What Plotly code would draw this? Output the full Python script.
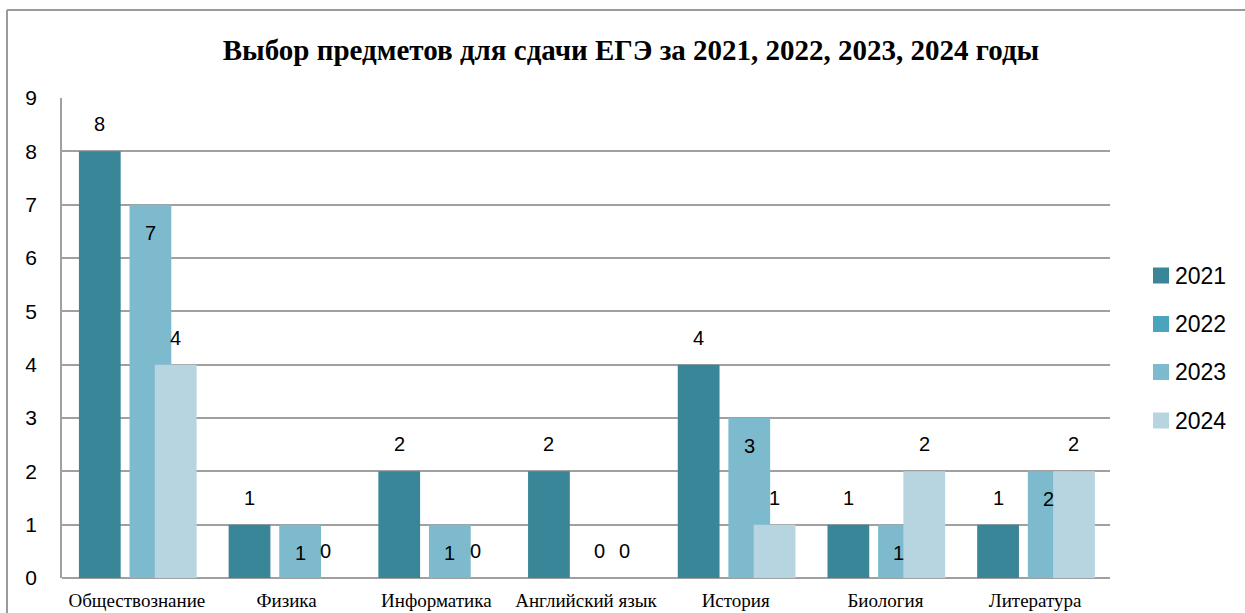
import plotly.graph_objects as go

categories = ["Обществознание", "Физика", "Информатика", "Английский язык",
              "История", "Биология", "Литература"]
years = ["2021", "2022", "2023", "2024"]
v2021 = [8, 1, 2, 2, 4, 1, 1]
v2022 = [None, None, None, None, None, None, None]
v2023 = [7, 1, 1, 0, 3, 1, 2]
v2024 = [4, 0, 0, 0, 1, 2, 2]
y_ticks = [0, 1, 2, 3, 4, 5, 6, 7, 8, 9]

series = [v2021, v2022, v2023, v2024]
colors = ["#3A8699", "#4AA4BC", "#7EBACE", "#B7D5E0"]

W, H = 1245, 613
L, R, T, B = 62, 135, 98, 35
pw, ph = W - L - R, H - T - B

bar_w = 0.279
step = 0.169
first_off = -0.387

fig = go.Figure()
annotations = []
idx = list(range(len(categories)))
for i, (yr, vals, col) in enumerate(zip(years, series, colors)):
    off = first_off + i * step
    fig.add_trace(go.Bar(
        x=idx, y=vals, name=yr, offset=off, width=bar_w,
        marker=dict(color=col, line=dict(width=0)), showlegend=False,
    ))
    for k, v in enumerate(vals):
        if v is None:
            continue
        if yr == "2023" and v > 0:
            shift = -28
        else:
            shift = 27
        annotations.append(dict(
            x=k + off + bar_w / 2, y=v, xref="x", yref="y", text=str(v),
            showarrow=False, yshift=shift,
            font=dict(family="Liberation Sans", size=20, color="#000000"),
        ))

# manual legend
def px_x(p):
    return (p - L) / pw

def px_y(p):
    return (H - B - p) / ph

shapes = []
leg_centers = [275.5, 324, 372, 420.5]
for yr, col, cy in zip(years, colors, leg_centers):
    shapes.append(dict(type="rect", xref="paper", yref="paper",
                       x0=px_x(1153), x1=px_x(1169), y0=px_y(cy + 8), y1=px_y(cy - 8),
                       fillcolor=col, line=dict(width=0)))
    annotations.append(dict(x=px_x(1173), y=px_y(cy), xref="paper", yref="paper",
                            text=yr, showarrow=False, xanchor="left", yanchor="middle",
                            font=dict(family="Liberation Sans", size=23, color="#000000")))

# outer frame (top and left edges)
shapes.append(dict(type="line", xref="paper", yref="paper",
                   x0=px_x(7), x1=px_x(W), y0=px_y(10), y1=px_y(10),
                   line=dict(color="#9A9A9A", width=2)))
shapes.append(dict(type="line", xref="paper", yref="paper",
                   x0=px_x(7), x1=px_x(7), y0=px_y(10), y1=px_y(H),
                   line=dict(color="#9A9A9A", width=2)))

fig.update_layout(
    width=W, height=H,
    margin=dict(l=L, r=R, t=T, b=B),
    barmode="overlay",
    plot_bgcolor="#FFFFFF", paper_bgcolor="#FFFFFF",
    title=dict(text="<b>Выбор предметов для сдачи ЕГЭ за 2021, 2022, 2023, 2024 годы</b>",
               x=631 / W, xanchor="center", xref="container",
               y=1 - 50 / H, yanchor="middle", yref="container",
               font=dict(family="Liberation Serif", size=29, color="#000000")),
    xaxis=dict(tickmode="array", tickvals=idx, ticktext=categories,
               range=[-0.5, len(categories) - 0.5], automargin=False,
               showgrid=False, zeroline=False, showline=False, ticks="",
               tickfont=dict(family="Liberation Serif", size=19, color="#000000"),
               ticklabelstandoff=9),
    yaxis=dict(range=[0, 9], tickvals=y_ticks, showgrid=True, automargin=False,
               gridcolor="#A0A0A0", gridwidth=1.5, zeroline=True,
               zerolinecolor="#A0A0A0", zerolinewidth=1.5,
               showline=True, linecolor="#A0A0A0", linewidth=1.5, ticks="",
               ticklabelstandoff=19,
               tickfont=dict(family="Liberation Sans", size=21, color="#000000")),
    annotations=annotations,
    shapes=shapes,
)

fig.write_html("out.html", config={"displayModeBar": False},
               post_script="document.body.style.margin='0';document.body.style.overflow='hidden';")
